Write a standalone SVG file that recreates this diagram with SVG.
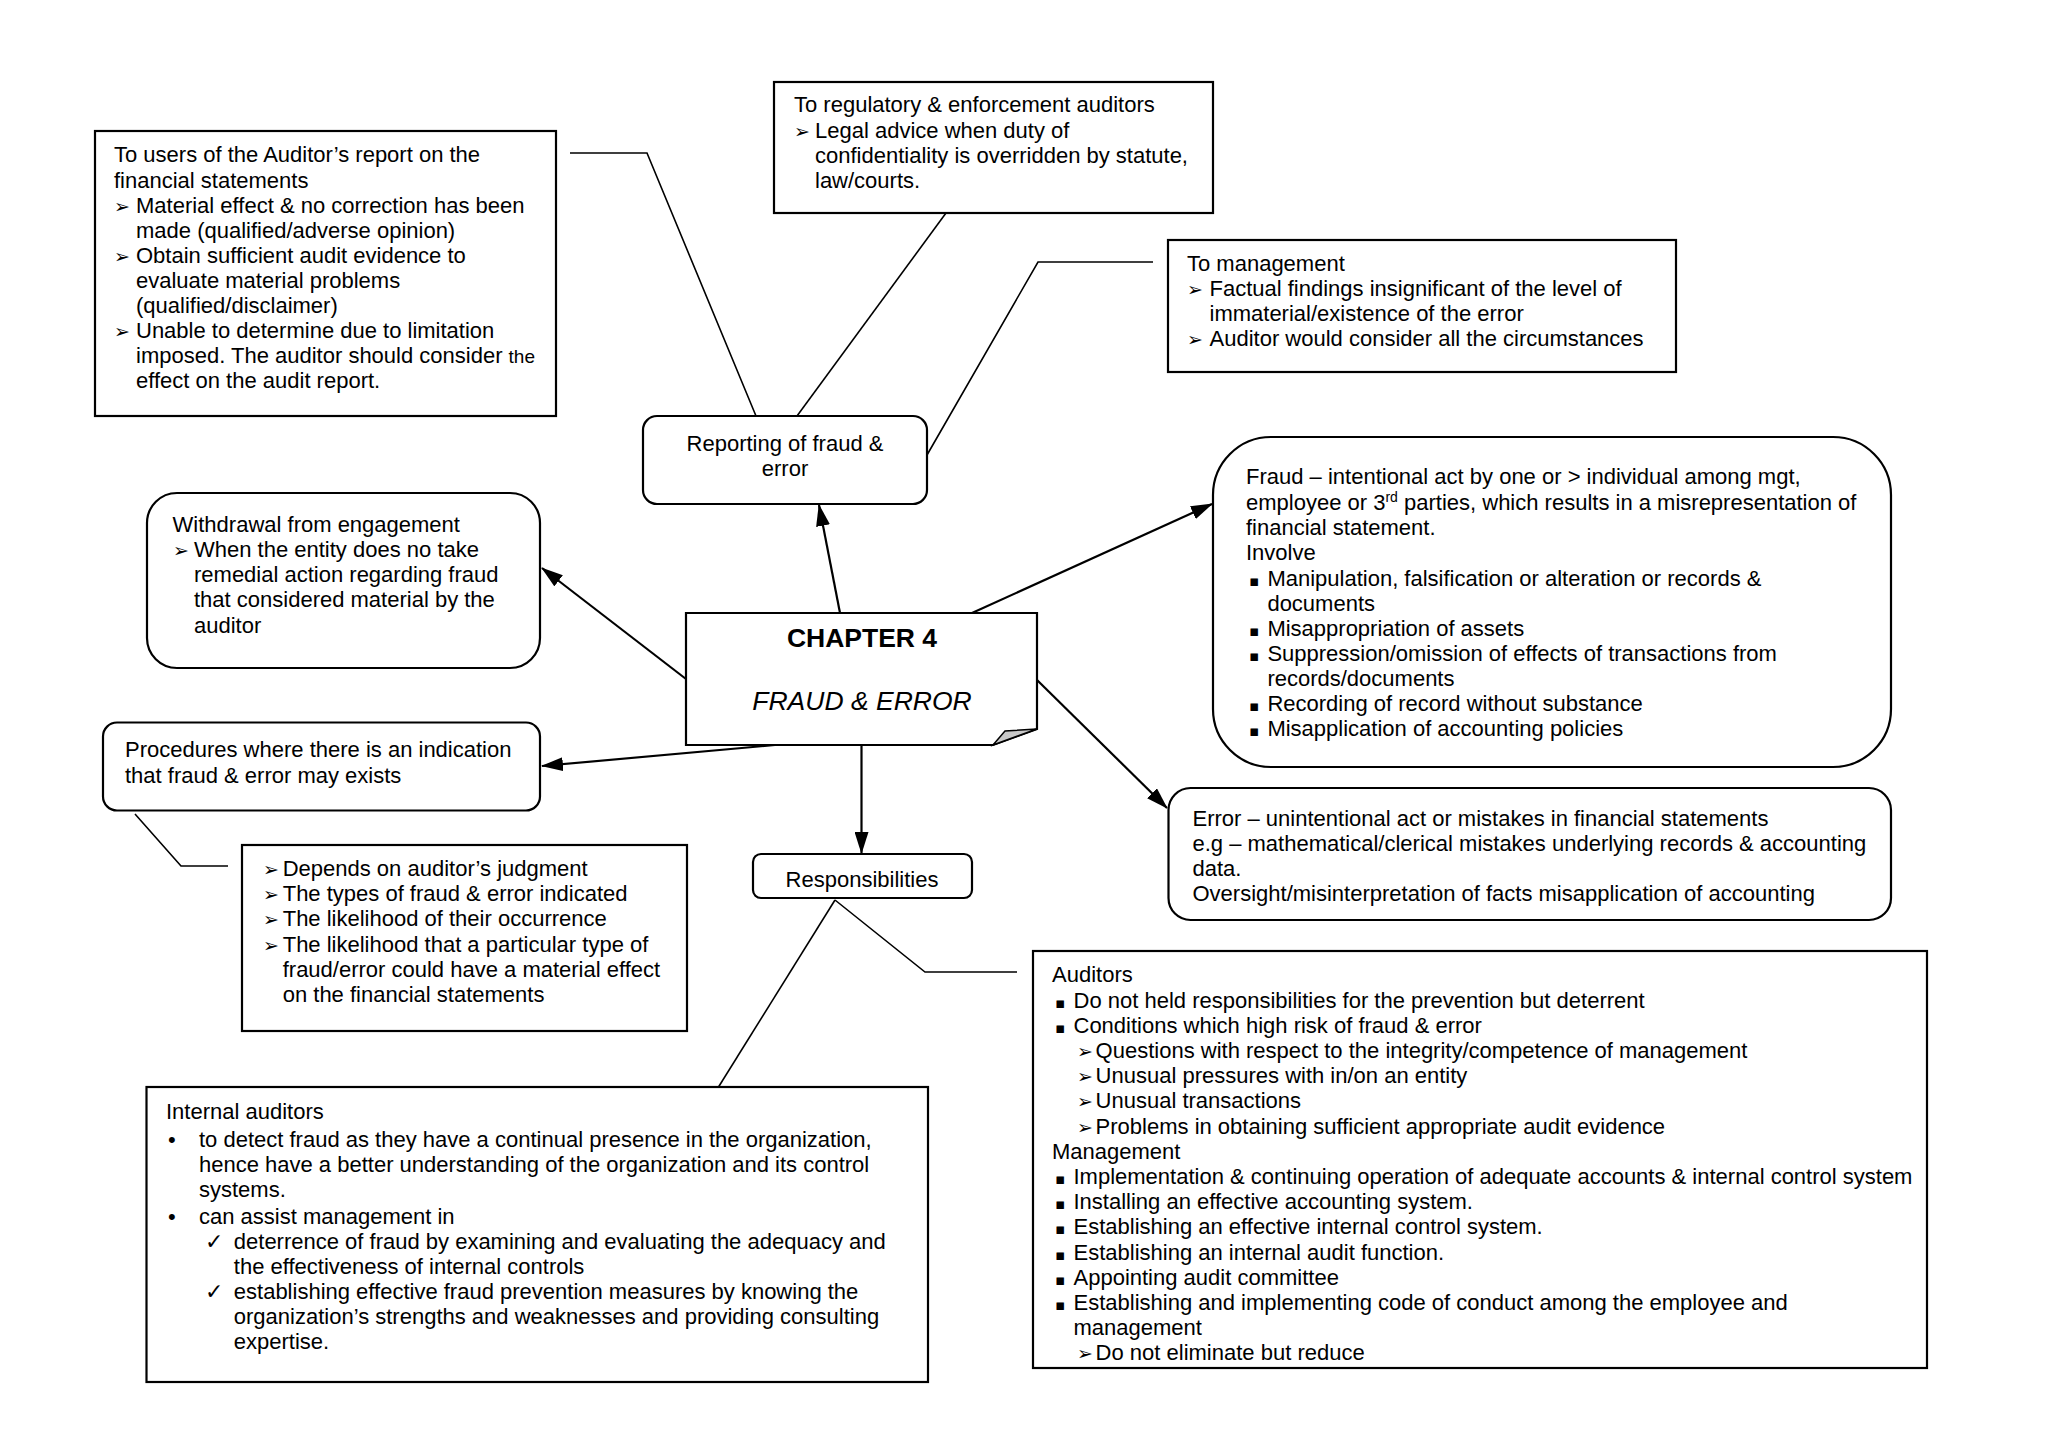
<svg xmlns="http://www.w3.org/2000/svg" width="2048" height="1449" viewBox="0 0 2048 1449">
<style>
text{font-family:"Liberation Sans",Arial,"DejaVu Sans",sans-serif;font-size:22px;fill:#000}
text.b{font-family:"DejaVu Sans",sans-serif;font-size:19px}
text.ck{font-family:"DejaVu Sans",sans-serif;font-size:22px}
text.sq{font-family:"DejaVu Sans",sans-serif;font-size:15px}
text.t1{font-size:26.5px;font-weight:bold}
text.t2{font-size:26.5px;font-style:italic}
.sm{font-size:19px}
.sup{font-size:14px}
.box{fill:#fff;stroke:#000;stroke-width:2.2}
.con{fill:none;stroke:#000;stroke-width:1.6}
.arr{fill:none;stroke:#000;stroke-width:2.2;marker-end:url(#ah)}
.c{text-anchor:middle}
</style>
<defs>
<marker id="ah" markerUnits="userSpaceOnUse" markerWidth="22" markerHeight="14" viewBox="0 0 22 14" refX="21" refY="7" orient="auto">
<path d="M0,0 L22,7 L0,14 z" fill="#000"/>
</marker>
</defs>
<rect width="2048" height="1449" fill="#fff"/>

<g id="connectors">
<polyline class="con" points="570,153 647,153 756,416"/>
<polyline class="con" points="797,416 946,213"/>
<polyline class="con" points="927,455 1038,262 1153,262"/>
<polyline class="con" points="135,814 181,866 228,866"/>
<polyline class="con" points="835,900 718.5,1087"/>
<polyline class="con" points="835,900 925,972 1017,972"/>
<line class="arr" x1="686" y1="679" x2="542" y2="568"/>
<line class="arr" x1="840" y1="613" x2="819" y2="505"/>
<line class="arr" x1="972" y1="613" x2="1212" y2="504"/>
<line class="arr" x1="1037" y1="680" x2="1167" y2="808"/>
<line class="arr" x1="775" y1="745" x2="542" y2="766"/>
<line class="arr" x1="861.5" y1="745" x2="861.5" y2="853"/>
</g>

<g id="users">
<rect class="box" x="95" y="131" width="461" height="285"/>
<text x="114" y="162">To users of the Auditor’s report on the</text>
<text x="114" y="187.5">financial statements</text>
<text class="b" x="114" y="212.5">➢</text>
<text x="136" y="212.5">Material effect &amp; no correction has been</text>
<text x="136" y="237.5">made (qualified/adverse opinion)</text>
<text class="b" x="114" y="262.5">➢</text>
<text x="136" y="262.5">Obtain sufficient audit evidence to</text>
<text x="136" y="287.5">evaluate material problems</text>
<text x="136" y="312.5">(qualified/disclaimer)</text>
<text class="b" x="114" y="337.5">➢</text>
<text x="136" y="337.5">Unable to determine due to limitation</text>
<text x="136" y="362.5">imposed. The auditor should consider <tspan class="sm">the</tspan></text>
<text x="136" y="387.5">effect on the audit report.</text>
</g>

<g id="regulatory">
<rect class="box" x="774" y="82" width="439" height="131"/>
<text x="794" y="112">To regulatory &amp; enforcement auditors</text>
<text class="b" x="794" y="137.5">➢</text>
<text x="815" y="137.5">Legal advice when duty of</text>
<text x="815" y="162.5">confidentiality is overridden by statute,</text>
<text x="815" y="187.5">law/courts.</text>
</g>

<g id="management">
<rect class="box" x="1168" y="240" width="508" height="132"/>
<text x="1187" y="271">To management</text>
<text class="b" x="1187" y="296">➢</text>
<text x="1209.5" y="296">Factual findings insignificant of the level of</text>
<text x="1209.5" y="321">immaterial/existence of the error</text>
<text class="b" x="1187" y="346">➢</text>
<text x="1209.5" y="346">Auditor would consider all the circumstances</text>
</g>

<g id="reporting">
<rect class="box" x="643" y="416" width="284" height="88" rx="14"/>
<text class="c" x="785" y="450.5">Reporting of fraud &amp;</text>
<text class="c" x="785" y="476">error</text>
</g>

<g id="withdrawal">
<rect class="box" x="147" y="493" width="393" height="175" rx="30"/>
<text x="172.6" y="531.5">Withdrawal from engagement</text>
<text class="b" x="173" y="556.7">➢</text>
<text x="194" y="556.7">When the entity does no take</text>
<text x="194" y="582">remedial action regarding fraud</text>
<text x="194" y="607.2">that considered material by the</text>
<text x="194" y="632.5">auditor</text>
</g>

<g id="chapter">
<path class="box" d="M686,613 H1037 V729 L993,745 H686 Z"/>
<path d="M993,745 L1005,731 L1037,729 Z" fill="#c8c8c8" stroke="#000" stroke-width="1.5"/>
<text class="c t1" x="862" y="647">CHAPTER 4</text>
<text class="c t2" x="862" y="709.5">FRAUD &amp; ERROR</text>
</g>

<g id="procedures">
<rect class="box" x="103" y="722.5" width="437" height="88" rx="14"/>
<text x="125" y="757.3">Procedures where there is an indication</text>
<text x="125" y="782.5">that fraud &amp; error may exists</text>
</g>

<g id="depends">
<rect class="box" x="242" y="845" width="445" height="186"/>
<text class="b" x="263" y="876">➢</text>
<text x="282.7" y="876">Depends on auditor’s judgment</text>
<text class="b" x="263" y="901.2">➢</text>
<text x="282.7" y="901.2">The types of fraud &amp; error indicated</text>
<text class="b" x="263" y="926.4">➢</text>
<text x="282.7" y="926.4">The likelihood of their occurrence</text>
<text class="b" x="263" y="951.6">➢</text>
<text x="282.7" y="951.6">The likelihood that a particular type of</text>
<text x="282.7" y="976.8">fraud/error could have a material effect</text>
<text x="282.7" y="1002">on the financial statements</text>
</g>

<g id="responsibilities">
<rect class="box" x="753" y="854" width="219" height="44" rx="8"/>
<text class="c" x="862" y="886.6">Responsibilities</text>
</g>

<g id="fraud">
<rect class="box" x="1213" y="437" width="678" height="330" rx="58"/>
<text x="1246" y="484">Fraud – intentional act by one or &gt; individual among mgt,</text>
<text x="1246" y="509.7">employee or 3<tspan class="sup" dy="-8">rd</tspan><tspan dy="8"> parties, which results in a misrepresentation of</tspan></text>
<text x="1246" y="535">financial statement.</text>
<text x="1246" y="559.7">Involve</text>
<text class="sq" x="1249" y="585.7">▪</text>
<text x="1267.4" y="585.7">Manipulation, falsification or alteration or records &amp;</text>
<text x="1267.4" y="610.7">documents</text>
<text class="sq" x="1249" y="635.7">▪</text>
<text x="1267.4" y="635.7">Misappropriation of assets</text>
<text class="sq" x="1249" y="660.7">▪</text>
<text x="1267.4" y="660.7">Suppression/omission of effects of transactions from</text>
<text x="1267.4" y="685.7">records/documents</text>
<text class="sq" x="1249" y="711">▪</text>
<text x="1267.4" y="711">Recording of record without substance</text>
<text class="sq" x="1249" y="735.7">▪</text>
<text x="1267.4" y="735.7">Misapplication of accounting policies</text>
</g>

<g id="error">
<rect class="box" x="1168.5" y="788" width="722.5" height="132" rx="22"/>
<text x="1192.5" y="825.7">Error – unintentional act or mistakes in financial statements</text>
<text x="1192.5" y="851">e.g – mathematical/clerical mistakes underlying records &amp; accounting</text>
<text x="1192.5" y="876">data.</text>
<text x="1192.5" y="901">Oversight/misinterpretation of facts misapplication of accounting</text>
</g>

<g id="internal">
<rect class="box" x="146.5" y="1087" width="781.5" height="295"/>
<text x="166" y="1119">Internal auditors</text>
<text x="168" y="1146.7">•</text>
<text x="199" y="1146.7">to detect fraud as they have a continual presence in the organization,</text>
<text x="199" y="1171.7">hence have a better understanding of the organization and its control</text>
<text x="199" y="1197">systems.</text>
<text x="168" y="1224">•</text>
<text x="199" y="1224">can assist management in</text>
<text class="ck" x="205" y="1249">✓</text>
<text x="233.8" y="1249">deterrence of fraud by examining and evaluating the adequacy and</text>
<text x="233.8" y="1274">the effectiveness of internal controls</text>
<text class="ck" x="205" y="1299">✓</text>
<text x="233.8" y="1299">establishing effective fraud prevention measures by knowing the</text>
<text x="233.8" y="1324">organization’s strengths and weaknesses and providing consulting</text>
<text x="233.8" y="1349">expertise.</text>
</g>

<g id="auditors">
<rect class="box" x="1033" y="951" width="894" height="417"/>
<text x="1052" y="982.3">Auditors</text>
<text class="sq" x="1055" y="1007.5">▪</text>
<text x="1073.5" y="1007.5">Do not held responsibilities for the prevention but deterrent</text>
<text class="sq" x="1055" y="1032.7">▪</text>
<text x="1073.5" y="1032.7">Conditions which high risk of fraud &amp; error</text>
<text class="b" x="1077" y="1058">➢</text>
<text x="1095.6" y="1058">Questions with respect to the integrity/competence of management</text>
<text class="b" x="1077" y="1083">➢</text>
<text x="1095.6" y="1083">Unusual pressures with in/on an entity</text>
<text class="b" x="1077" y="1108.3">➢</text>
<text x="1095.6" y="1108.3">Unusual transactions</text>
<text class="b" x="1077" y="1133.5">➢</text>
<text x="1095.6" y="1133.5">Problems in obtaining sufficient appropriate audit evidence</text>
<text x="1052" y="1158.7">Management</text>
<text class="sq" x="1055" y="1184">▪</text>
<text x="1073.5" y="1184">Implementation &amp; continuing operation of adequate accounts &amp; internal control system</text>
<text class="sq" x="1055" y="1209">▪</text>
<text x="1073.5" y="1209">Installing an effective accounting system.</text>
<text class="sq" x="1055" y="1234.4">▪</text>
<text x="1073.5" y="1234.4">Establishing an effective internal control system.</text>
<text class="sq" x="1055" y="1259.6">▪</text>
<text x="1073.5" y="1259.6">Establishing an internal audit function.</text>
<text class="sq" x="1055" y="1284.8">▪</text>
<text x="1073.5" y="1284.8">Appointing audit committee</text>
<text class="sq" x="1055" y="1310">▪</text>
<text x="1073.5" y="1310">Establishing and implementing code of conduct among the employee and</text>
<text x="1073.5" y="1335.2">management</text>
<text class="b" x="1077" y="1360.4">➢</text>
<text x="1095.6" y="1360.4">Do not eliminate but reduce</text>
</g>
</svg>
